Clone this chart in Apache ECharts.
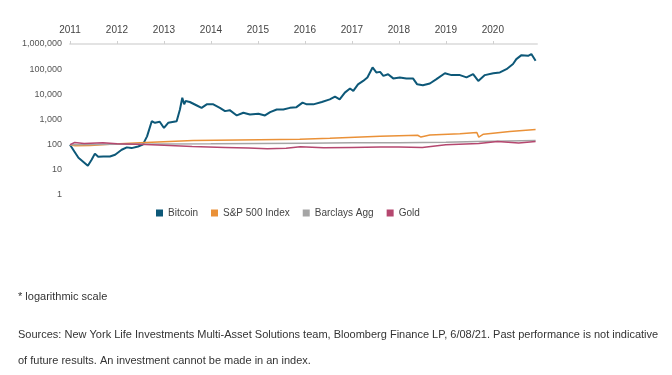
<!DOCTYPE html>
<html>
<head>
<meta charset="utf-8">
<script src="https://cdn.jsdelivr.net/npm/echarts@6/dist/echarts.min.js"></script>
<style>
  html, body { margin: 0; padding: 0; background: #fff; }
  #main { width: 672px; height: 375px; }
</style>
</head>
<body>
<div id="main"></div>
<script>
// values, [year, indexed value] (start = 100)
var yearTicks = [2011, 2012, 2013, 2014, 2015, 2016, 2017, 2018, 2019, 2020];
var yTickLabels = ['1', '10', '100', '1,000', '10,000', '100,000', '1,000,000'];

var bitcoin = [
  [2011.00, 100], [2011.11, 48], [2011.18, 30], [2011.28, 21], [2011.38, 14.5],
  [2011.46, 25], [2011.53, 44], [2011.60, 33], [2011.71, 34], [2011.85, 34],
  [2011.96, 40], [2012.10, 63], [2012.21, 78], [2012.31, 73], [2012.45, 85],
  [2012.55, 100], [2012.64, 214], [2012.74, 850], [2012.81, 740], [2012.91, 810],
  [2013.00, 460], [2013.09, 740], [2013.27, 850], [2013.34, 2500], [2013.39, 7300],
  [2013.43, 4000], [2013.46, 5400], [2013.55, 4950], [2013.70, 3600], [2013.80, 2900],
  [2013.91, 4000], [2014.05, 4000], [2014.19, 2900], [2014.30, 2150], [2014.40, 2350],
  [2014.55, 1450], [2014.69, 1850], [2014.83, 1580], [2015.01, 1690], [2015.15, 1450],
  [2015.26, 1960], [2015.40, 2500], [2015.54, 2500], [2015.68, 2900], [2015.82, 3100],
  [2015.95, 4700], [2016.04, 4000], [2016.18, 4000], [2016.36, 4950], [2016.53, 6300],
  [2016.64, 8100], [2016.74, 6300], [2016.85, 11700], [2016.96, 17000], [2017.03, 13700],
  [2017.13, 25000], [2017.24, 34000], [2017.33, 47000], [2017.37, 40000], [2017.44, 117000],
  [2017.52, 74000], [2017.60, 78000], [2017.67, 54000], [2017.77, 63000], [2017.88, 43000],
  [2018.02, 47000], [2018.16, 43000], [2018.30, 43000], [2018.39, 25000], [2018.51, 23000],
  [2018.66, 27000], [2018.80, 40000], [2018.98, 69000], [2019.12, 58000], [2019.30, 58000],
  [2019.44, 47000], [2019.58, 63000], [2019.69, 34000], [2019.83, 58000], [2020.01, 69000],
  [2020.15, 74000], [2020.29, 100000], [2020.43, 160000], [2020.50, 250000], [2020.61, 360000],
  [2020.75, 340000], [2020.82, 400000], [2020.91, 215000]
];

var sp500 = [
  [2011.00, 100], [2011.11, 90], [2011.43, 92], [2011.85, 105], [2012.49, 118],
  [2013.62, 145], [2015.04, 158], [2015.89, 165], [2016.53, 180], [2017.60, 215],
  [2018.40, 236], [2018.47, 200], [2018.66, 240], [2019.30, 270], [2019.66, 303],
  [2019.70, 200], [2019.80, 260], [2020.36, 330], [2020.91, 400]
];

var barclays = [
  [2011.00, 100], [2012.00, 103], [2013.00, 106], [2014.00, 108], [2015.00, 112],
  [2016.00, 115], [2017.00, 118], [2018.00, 120], [2019.00, 125], [2019.66, 135],
  [2020.00, 138], [2020.91, 145]
];

var gold = [
  [2011.00, 100], [2011.10, 122], [2011.30, 112], [2011.70, 118], [2012.00, 108],
  [2012.60, 102], [2013.00, 95], [2013.60, 85], [2014.30, 78], [2014.80, 74],
  [2015.20, 69], [2015.60, 72], [2015.90, 83], [2016.40, 76], [2017.00, 78],
  [2017.60, 80], [2018.00, 81], [2018.50, 78], [2019.00, 100], [2019.70, 112],
  [2020.10, 135], [2020.55, 117], [2020.91, 135]
];

var names = ['Bitcoin', 'S&P 500 Index', 'Barclays Agg', 'Gold'];
var colors = ['#0d5878', '#ea9138', '#a5a5a5', '#b5476f'];

var font = '"Liberation Sans", Arial, sans-serif';

var myChart = echarts.init(document.getElementById('main'));
myChart.setOption({
    animation: false,
    color: colors,
    grid: { left: 70, right: 135, top: 44, bottom: 180 },
    legend: {
        data: names,
        left: 151,
        top: 203,
        icon: 'rect',
        itemWidth: 7,
        itemHeight: 7,
        itemGap: 13,
        textStyle: { color: '#444', fontSize: 10, fontFamily: font }
    },
    xAxis: {
        type: 'value',
        position: 'top',
        min: 2011,
        max: 2020.94,
        interval: 1,
        splitLine: { show: false },
        axisLine: { lineStyle: { color: '#e3e3e3', width: 2 } },
        axisTick: { length: 3, lineStyle: { color: '#d0d0d0' } },
        axisLabel: {
            color: '#444', fontSize: 10, fontFamily: font, margin: 9,
            showMaxLabel: false,
            formatter: function (v) { return yearTicks.indexOf(v) >= 0 ? String(v) : ''; }
        }
    },
    yAxis: {
        type: 'log',
        logBase: 10,
        min: 1,
        max: 1000000,
        splitLine: { show: false },
        axisLine: { show: false },
        axisTick: { show: false },
        axisLabel: {
            color: '#555', fontSize: 9, fontFamily: font, margin: 8,
            formatter: function (v) {
                var i = Math.round(Math.log10(v));
                return yTickLabels[i] || '';
            }
        }
    },
    series: [
        { name: names[0], type: 'line', data: bitcoin, showSymbol: false, lineStyle: { width: 2 }, z: 3 },
        { name: names[1], type: 'line', data: sp500, showSymbol: false, lineStyle: { width: 1.5 } },
        { name: names[2], type: 'line', data: barclays, showSymbol: false, lineStyle: { width: 1.5 } },
        { name: names[3], type: 'line', data: gold, showSymbol: false, lineStyle: { width: 1.5 }, z: 4 }
    ],
    graphic: [
        {
            type: 'text', left: 18, top: 291,
            style: { text: '* logarithmic scale', fill: '#333', fontSize: 11, fontFamily: font }
        },
        {
            type: 'text', left: 18, top: 329,
            style: { text: 'Sources: New York Life Investments Multi-Asset Solutions team, Bloomberg Finance LP, 6/08/21. Past performance is not indicative', fill: '#333', fontSize: 11, fontFamily: font }
        },
        {
            type: 'text', left: 18, top: 355,
            style: { text: 'of future results. An investment cannot be made in an index.', fill: '#333', fontSize: 11, fontFamily: font }
        }
    ]
});
</script>
</body>
</html>
